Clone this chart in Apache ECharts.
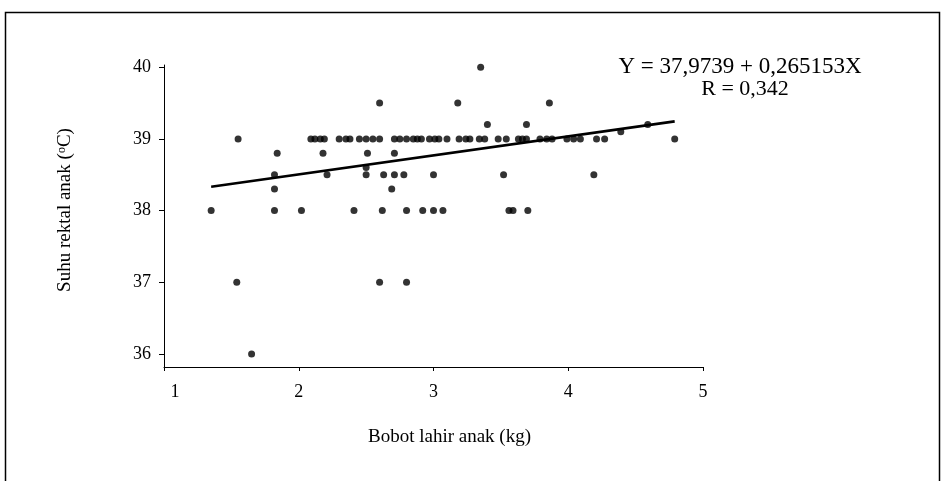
<!DOCTYPE html>
<html><head><meta charset="utf-8">
<script src="https://cdn.jsdelivr.net/npm/echarts@6/dist/echarts.min.js"></script>
<style>html,body{margin:0;padding:0;background:#fff}#c{width:945px;height:481px}</style>
</head><body><div id="c"></div>
<script>
// ---- data ----
const xTicks = [1, 2, 3, 4, 5];
const yTicks = [36, 37, 38, 39, 40];
const xLabelText = 'Bobot lahir anak (kg)';
const yLabelText = 'Suhu rektal anak ({sup|o}C)';
const equationText = 'Y = 37,9739 + 0,265153X';
const rText = 'R = 0,342';
const intercept = 37.9739;
const slope = 0.265153;

// birth weight (kg) of each kid
const bobotLahir = [
  3.35,                                   // 40
  2.60, 3.18, 3.86,                       // 39.5
  3.40, 3.69, 4.59,                       // 39.2
  4.39,                                   // 39.1
  1.55, 2.09, 2.12, 2.16, 2.19, 2.30, 2.35, 2.38, 2.45, 2.50,
  2.55, 2.60, 2.71, 2.75, 2.80, 2.85, 2.88, 2.91, 2.97, 3.01,
  3.04, 3.10, 3.19, 3.24, 3.27, 3.34, 3.38, 3.48, 3.54, 3.63,
  3.66, 3.69, 3.79, 3.84, 3.88, 3.99, 4.04, 4.09, 4.21, 4.27, 4.79, // 39
  1.84, 2.18, 2.51, 2.71,                 // 38.8
  2.50,                                   // 38.6
  1.82, 2.21, 2.50, 2.63, 2.71, 2.78, 3.00, 3.52, 4.19, // 38.5
  1.82, 2.69,                             // 38.3
  1.35, 1.82, 2.02, 2.41, 2.62, 2.80, 2.92, 3.00, 3.07, 3.56, 3.59, 3.70, // 38
  1.54, 2.60, 2.80,                       // 37
  1.65                                    // 36
];
// rectal temperature (°C) of each kid
const suhuRektal = [
  40,
  39.5, 39.5, 39.5,
  39.2, 39.2, 39.2,
  39.1,
  39, 39, 39, 39, 39, 39, 39, 39, 39, 39,
  39, 39, 39, 39, 39, 39, 39, 39, 39, 39,
  39, 39, 39, 39, 39, 39, 39, 39, 39, 39,
  39, 39, 39, 39, 39, 39, 39, 39, 39, 39, 39,
  38.8, 38.8, 38.8, 38.8,
  38.6,
  38.5, 38.5, 38.5, 38.5, 38.5, 38.5, 38.5, 38.5, 38.5,
  38.3, 38.3,
  38, 38, 38, 38, 38, 38, 38, 38, 38, 38, 38, 38,
  37, 37, 37,
  36
];

// ---- build ----
const scatterData = bobotLahir.map((x, i) => [x, suhuRektal[i]]);
const xMin = Math.min(...bobotLahir), xMax = Math.max(...bobotLahir);
const lineData = [[xMin, intercept + slope * xMin], [xMax, intercept + slope * xMax]];

const FONT = '"Liberation Serif", "Times New Roman", serif';
const chart = echarts.init(document.getElementById('c'), null, {renderer: 'canvas'});
chart.setOption({
  backgroundColor: '#fff',
  animation: false,
  grid: {left: 164, right: 242, top: 65, bottom: 114},
  xAxis: {
    type: 'value', min: 1, max: 5,
    name: xLabelText, nameLocation: 'middle', nameGap: 61,
    nameTextStyle: {fontFamily: FONT, fontSize: 19, color: '#000', padding: [0, 0, 0, 32]},
    axisLine: {lineStyle: {color: '#000', width: 1}},
    axisTick: {show: true, length: 4, customValues: xTicks, lineStyle: {color: '#000'}},
    axisLabel: {
      customValues: xTicks, margin: 16, color: '#000', fontFamily: FONT, fontSize: 18,
      formatter: v => v === xTicks[0] ? '{s|' + v + '}' : String(v),
      rich: {s: {padding: [0, 0, 0, 22], fontFamily: FONT, fontSize: 18, color: '#000'}}
    },
    splitLine: {show: false}
  },
  yAxis: {
    type: 'value', min: 35.82, max: 40.03,
    name: yLabelText, nameLocation: 'middle', nameGap: 89, nameRotate: 90,
    nameTextStyle: {
      fontFamily: FONT, fontSize: 19, color: '#000', padding: [0, 0, 0, 12],
      rich: {sup: {fontFamily: FONT, fontSize: 12, color: '#000', verticalAlign: 'top', lineHeight: 19}}
    },
    axisLine: {show: true, lineStyle: {color: '#000', width: 1}},
    axisTick: {show: true, length: 5, customValues: yTicks, lineStyle: {color: '#000'}},
    axisLabel: {customValues: yTicks, margin: 13, color: '#000', fontFamily: FONT, fontSize: 18},
    splitLine: {show: false}
  },
  series: [
    {
      type: 'scatter', data: scatterData, symbol: 'circle', symbolSize: 7,
      itemStyle: {color: '#000'}, z: 3
    },
    {
      type: 'line', data: lineData, symbol: 'none',
      lineStyle: {color: '#000', width: 2.6}, z: 4
    }
  ],
  graphic: [
    {type: 'rect', shape: {x: 5.5, y: 12.5, width: 934, height: 520}, style: {fill: 'none', stroke: '#000', lineWidth: 1.5}, z: -1, silent: true},
    {type: 'text', x: 740, y: 67, style: {text: equationText, font: '23px ' + FONT, fill: '#000', textAlign: 'center', textVerticalAlign: 'middle'}},
    {type: 'text', x: 745, y: 89, style: {text: rText, font: '22px ' + FONT, fill: '#000', textAlign: 'center', textVerticalAlign: 'middle'}}
  ]
});
</script>
</body></html>
